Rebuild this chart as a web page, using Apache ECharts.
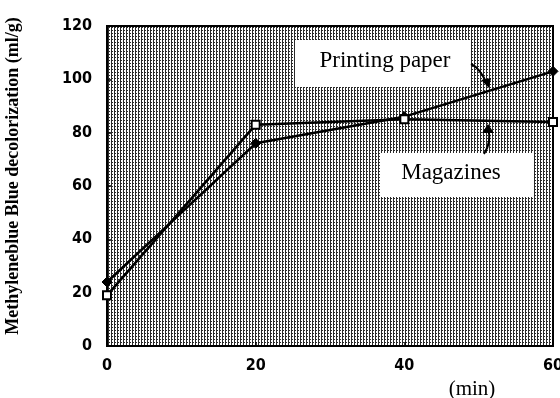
<!DOCTYPE html>
<html>
<head>
<meta charset="utf-8">
<script src="https://cdn.jsdelivr.net/npm/echarts@6/dist/echarts.min.js"></script>
<style>html,body{margin:0;padding:0;background:#fff;}#c{width:560px;height:398px;}</style>
</head>
<body>
<div id="c"></div>
<script>
var timeMin = [0, 20, 40, 60];
var printingPaper = [24, 76, 86, 103];
var magazines = [19, 83, 85, 84];
var xTicks = [0, 20, 40, 60];
var yTicks = [0, 20, 40, 60, 80, 100, 120];

// halftone-like texture for plot background
var tile = document.createElement('canvas');
tile.width = 3; tile.height = 3;
var tc = tile.getContext('2d');
tc.fillStyle = '#fff'; tc.fillRect(0, 0, 3, 3);
tc.fillStyle = '#2a2a2a';
tc.fillRect(0, 0, 3, 1);
tc.fillRect(0, 0, 1, 3);
tc.fillStyle = '#fff';
tc.fillRect(2, 0, 1, 1);

var chart = echarts.init(document.getElementById('c'), null, {renderer: 'canvas'});
var numFont = '"Liberation Sans Narrow", "DejaVu Sans Condensed", sans-serif';
var serif = '"Liberation Serif", "DejaVu Serif", serif';

function pair(xs, ys) { return xs.map(function (x, i) { return [x, ys[i]]; }); }

chart.setOption({
  animation: false,
  backgroundColor: '#fff',
  grid: {
    left: 107, top: 26, right: 7, bottom: 52,
    outerBoundsMode: 'none', containLabel: false,
    show: true,
    backgroundColor: {image: tile, repeat: 'repeat'},
    borderColor: '#000', borderWidth: 2
  },
  xAxis: {
    type: 'value', min: xTicks[0], max: xTicks[xTicks.length - 1], interval: 20,
    axisLine: {show: true, lineStyle: {color: '#000', width: 2}},
    axisTick: {show: true, inside: true, length: 4, lineStyle: {color: '#000', width: 1.5}},
    splitLine: {show: false},
    axisLabel: {color: '#000', fontFamily: numFont, fontWeight: 'bold', fontSize: 16, margin: 12}
  },
  yAxis: {
    type: 'value', min: yTicks[0], max: yTicks[yTicks.length - 1], interval: 20,
    axisLine: {show: true, lineStyle: {color: '#000', width: 2}},
    axisTick: {show: true, inside: true, length: 4, lineStyle: {color: '#000', width: 1.5}},
    splitLine: {show: false},
    axisLabel: {color: '#000', fontFamily: numFont, fontWeight: 'bold', fontSize: 16, margin: 15}
  },
  series: [
    {
      name: 'Printing paper', type: 'line', data: pair(timeMin, printingPaper),
      symbol: 'diamond', symbolSize: 10, showAllSymbol: true,
      lineStyle: {color: '#000', width: 2.5},
      itemStyle: {color: '#000', borderColor: '#000'}
    },
    {
      name: 'Magazines', type: 'line', data: pair(timeMin, magazines),
      symbol: 'rect', symbolSize: 8, showAllSymbol: true,
      lineStyle: {color: '#000', width: 2.5},
      itemStyle: {color: '#fff', borderColor: '#000', borderWidth: 2}
    }
  ],
  graphic: [
    {type: 'text', x: 13, y: 176, rotation: Math.PI / 2,
     style: {text: 'Methyleneblue Blue decolorization (ml/g)', font: 'bold 18px ' + serif,
             fill: '#000', align: 'center', verticalAlign: 'middle'}},
    {type: 'text', x: 472, y: 389,
     style: {text: '(min)', font: '21px ' + serif, fill: '#000', align: 'center', verticalAlign: 'middle'}},
    {type: 'rect', shape: {x: 295, y: 40, width: 175, height: 47}, style: {fill: '#fff'}, z: 10},
    {type: 'text', x: 385, y: 61, z: 11,
     style: {text: 'Printing paper', font: '23px ' + serif, fill: '#000', align: 'center', verticalAlign: 'middle'}},
    {type: 'rect', shape: {x: 380, y: 153, width: 153, height: 44}, style: {fill: '#fff'}, z: 10},
    {type: 'text', x: 451, y: 173, z: 11,
     style: {text: 'Magazines', font: '23px ' + serif, fill: '#000', align: 'center', verticalAlign: 'middle'}},
    {type: 'bezierCurve', z: 12,
     shape: {x1: 471, y1: 64, cpx1: 480, cpy1: 68, x2: 487, y2: 84},
     style: {stroke: '#000', lineWidth: 2, fill: null}},
    {type: 'polygon', z: 12, shape: {points: [[489, 88], [481, 80], [491, 78]]}, style: {fill: '#000'}},
    {type: 'bezierCurve', z: 12,
     shape: {x1: 484, y1: 154, cpx1: 492, cpy1: 142, x2: 488, y2: 128},
     style: {stroke: '#000', lineWidth: 2, fill: null}},
    {type: 'polygon', z: 12, shape: {points: [[488, 124], [482, 133], [494, 133]]}, style: {fill: '#000'}}
  ]
});
</script>
</body>
</html>
